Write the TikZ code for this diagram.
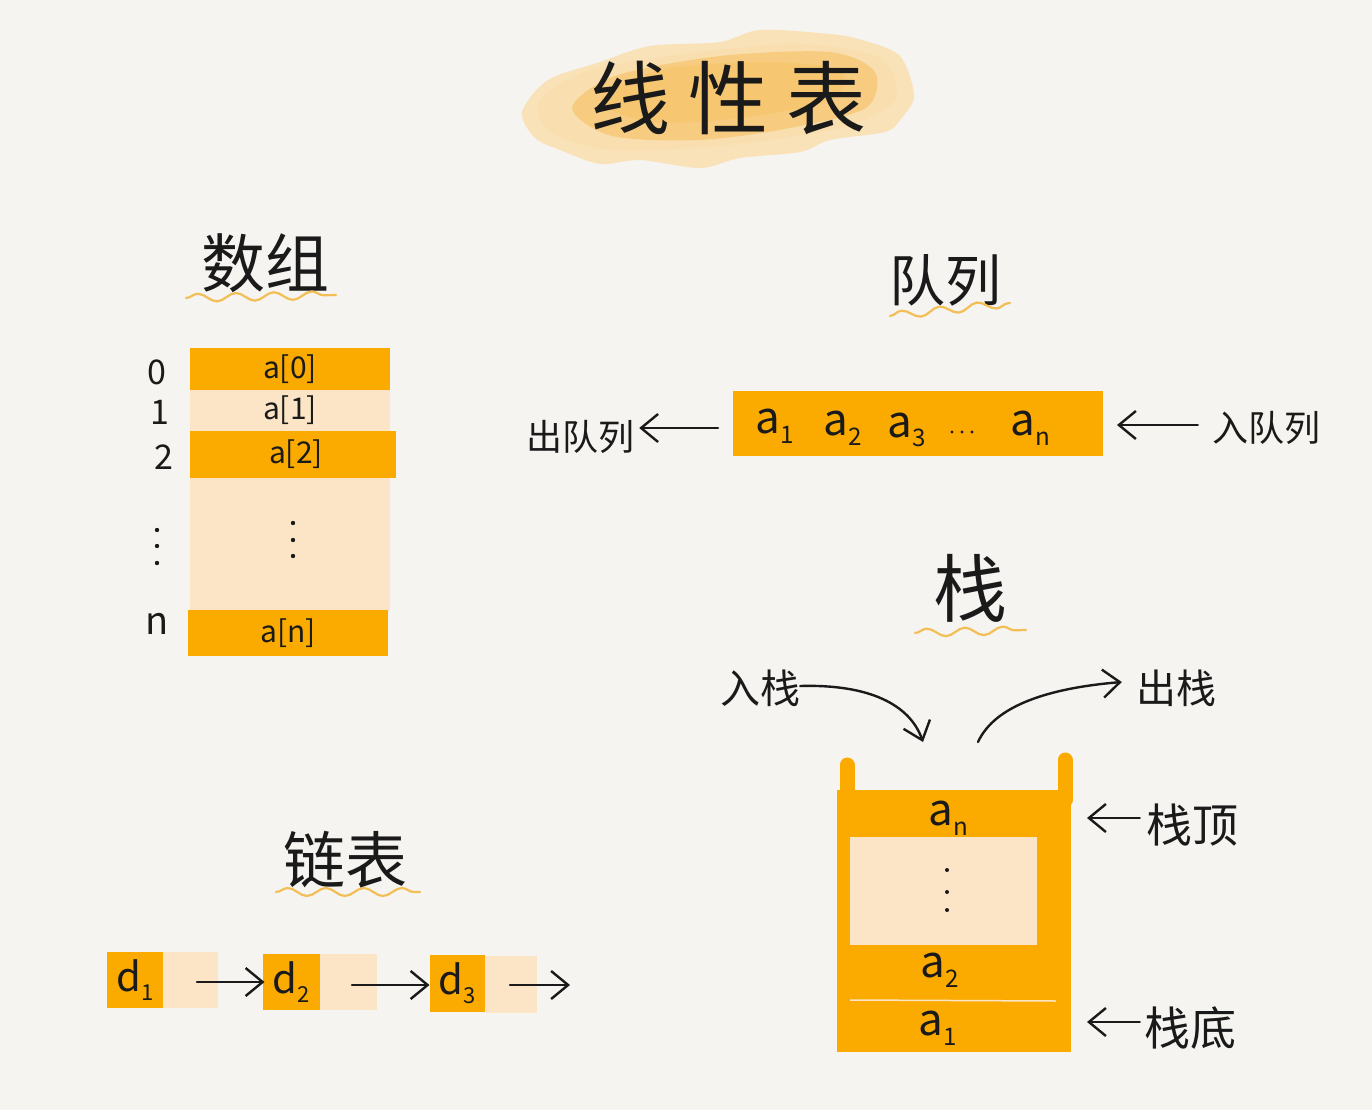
\documentclass[tikz,border=0pt]{standalone}
\usepackage{fontspec}
\usepackage{graphicx}
\setmainfont{Noto Sans CJK SC}
\usetikzlibrary{arrows.meta,decorations.pathmorphing,calc}
\definecolor{bg}{HTML}{F5F4F0}
\definecolor{org}{HTML}{FBAA00}
\definecolor{lt}{HTML}{FCE4C6}
\definecolor{wave}{HTML}{F2BE55}
\definecolor{brushA}{HTML}{FADDAA}
\definecolor{brushB}{HTML}{F7BC55}
\definecolor{ink}{HTML}{1A1A1A}
\newcommand\mysub[1]{\raisebox{-0.22em}{\scalebox{0.55}{#1}}}
\begin{document}
\begin{tikzpicture}[x=1pt,y=-1pt,
 cell/.style={draw=none, inner sep=0pt, outer sep=0pt},
 dark/.style={cell, fill=org},
 light/.style={cell, fill=lt},
 lbl/.style={text=ink, inner sep=0pt},
 fs/.style={font=\fontsize{#1}{#1}\selectfont},
 wavy/.style={draw=wave, line width=2.2pt, line cap=round, decorate, decoration={snake, amplitude=4pt, segment length=38pt}},
 arr/.style={draw=ink, line width=2.4pt, line cap=round, -{Straight Barb[length=17pt,width=28pt,line width=2.4pt]}},
 dotc/.style={fill=ink},
]
\useasboundingbox (0,0) rectangle (1372,1110);
\fill[bg] (0,0) rectangle (1372,1110);

% ---- title brush ----
\fill[brushA, opacity=0.8] plot[smooth cycle] coordinates {(522,112)(548,80)(600,62)(650,46)(720,42)(760,30)(830,34)(862,40)(900,56)(914,96)(900,120)(885,132)(830,140)(800,152)(740,158)(700,168)(640,160)(600,164)(560,150)(535,138)};
\fill[brushA, opacity=0.6] plot[smooth cycle] coordinates {(540,100)(590,70)(700,52)(800,44)(880,58)(895,100)(840,128)(720,146)(610,150)(550,132)};
\fill[brushB, opacity=0.5] plot[smooth cycle] coordinates {(572,108)(615,76)(720,56)(830,52)(875,72)(866,108)(790,128)(700,140)(612,136)};
\fill[brushB, opacity=0.35] plot[smooth cycle] coordinates {(600,100)(660,70)(760,62)(840,70)(830,100)(740,118)(650,122)};
\node[lbl, fs=80] (title) at (728,98) {线\hspace{18pt}性\hspace{18pt}表};

% ---- array ----
\node[lbl, fs=64] (arrT) at (265,263) {数组};
\coordinate (w1a) at (186,298);
\coordinate (w1b) at (336,295);
\draw[wavy] (w1a) -- (w1b);

\node[light, minimum width=200pt, minimum height=135pt] (amid) at (290,543) {};
\node[dark, minimum width=200pt, minimum height=42pt] (a0) at (290,369) {};
\node[light, minimum width=200pt, minimum height=41pt] (a1) at (290,410) {};
\node[dark, minimum width=206pt, minimum height=47pt] (a2) at (293,454) {};
\node[dark, minimum width=200pt, minimum height=46pt] (an) at (288,633) {};
\node[lbl, fs=30] (t0) at (a0.center) {a[0]};
\node[lbl, fs=30] (t1) at (a1.center) {a[1]};
\node[lbl, fs=30] (t2) at ($(a2.center)+(3,0)$) {a[2]};
\node[lbl, fs=30] (tn) at (an.center) {a[n]};
\node[lbl, fs=34] (i0) at (157,372) {0};
\node[lbl, fs=34] (i1) at (160,412) {1};
\node[lbl, fs=34] (i2) at (164,457) {2};
\node[lbl, fs=38] (in) at (157,624) {n};
\foreach \yy in {530,546,563} \fill[dotc] (157,\yy) circle (2.2pt);
\foreach \yy in {523,540,556} \fill[dotc] (293,\yy) circle (2.2pt);

% ---- queue ----
\node[lbl, fs=56] (qT) at (945,280) {队列};
\coordinate (w2a) at (890,316);
\coordinate (w2b) at (1010,303);
\draw[wavy] (w2a) -- (w2b);
\node[dark, minimum width=370pt, minimum height=65pt] (qbar) at (918,423) {};
\node[lbl, fs=44] (q1) at (775,426) {a\mysub{1}};
\node[lbl, fs=44] (q2) at (843,428) {a\mysub{2}};
\node[lbl, fs=44] (q3) at (907,430) {a\mysub{3}};
\foreach \xx in {952,962,972} \fill[dotc] (\xx,432) circle (1.6pt);
\node[lbl, fs=44] (q4) at (1030,428) {a\mysub{n}};
\node[lbl, fs=36] (deq) at (580,437) {出队列};
\node[lbl, fs=36] (enq) at (1266,428) {入队列};
\draw[arr] ($(qbar.west)+(-15,5)$) -- ($(deq.east)+(5,-9)$);
\draw[arr] ($(enq.west)+(-14,-3)$) -- ($(qbar.east)+(14,2)$);

% ---- stack ----
\node[lbl, fs=74] (sT) at (970,588) {栈};
\coordinate (w3a) at (915,633);
\coordinate (w3b) at (1026,630);
\draw[wavy] (w3a) -- (w3b);
\node[lbl, fs=40] (push) at (760,688) {入栈};
\node[lbl, fs=40] (pop) at (1176,688) {出栈};
\coordinate (pushend) at (923,742);
\coordinate (popstart) at (978,742);
\draw[arr] ($(push.east)+(0,-2)$) .. controls (870,684) and (910,705) .. (pushend);
\draw[arr] (popstart) .. controls (995,705) and (1050,688) .. ($(pop.west)+(-14,-6)$);

\draw[org, line width=15pt, line cap=round] (847,765) -- (847,800);
\draw[org, line width=15pt, line cap=round] (1065,760) -- (1065,800);
\node[dark, minimum width=234pt, minimum height=262pt] (stk) at (954,921) {};
\node[light, minimum width=187pt, minimum height=108pt] (smid) at (943,891) {};
\draw[lt, line width=1.5pt] (850,1000) -- (1056,1001);
\node[lbl, fs=44] (sn) at (948,818) {a\mysub{n}};
\node[lbl, fs=44] (s2) at (940,970) {a\mysub{2}};
\node[lbl, fs=44] (s1) at (938,1028) {a\mysub{1}};
\foreach \yy in {870,892,910} \fill[dotc] (947,\yy) circle (2pt);
\node[lbl, fs=46] (stop) at (1192,825) {栈顶};
\node[lbl, fs=46] (sbot) at (1190,1028) {栈底};
\draw[arr] ($(stop.west)+(-6,-7)$) -- ($(stk.east)+(16,-103)$);
\draw[arr] ($(sbot.west)+(-4,-6)$) -- ($(stk.east)+(16,101)$);

% ---- linked list ----
\node[lbl, fs=62] (lT) at (345,860) {链表};
\coordinate (w4a) at (276,892);
\coordinate (w4b) at (420,892);
\draw[wavy] (w4a) -- (w4b);
\node[light, minimum width=56pt, minimum height=56pt] (l1) at (190,980) {};
\node[dark, minimum width=56pt, minimum height=56pt] (d1) at (135,980) {};
\node[light, minimum width=57pt, minimum height=56pt] (l2) at (348,982) {};
\node[dark, minimum width=57pt, minimum height=56pt] (d2) at (291,982) {};
\node[light, minimum width=52pt, minimum height=57pt] (l3) at (511,984) {};
\node[dark, minimum width=55pt, minimum height=57pt] (d3) at (457,983) {};
\node[lbl, fs=40] (dt1) at (d1.center) {d\mysub{1}};
\node[lbl, fs=40] (dt2) at (d2.center) {d\mysub{2}};
\node[lbl, fs=40] (dt3) at (d3.center) {d\mysub{3}};
\coordinate (lend) at (570,985);
\draw[arr] ($(l1.center)+(7,2)$) -- ($(d2.west)+(2,0)$);
\draw[arr] ($(l2.center)+(4,3)$) -- ($(d3.west)+(0,2)$);
\draw[arr] ($(l3.center)+(-1,1)$) -- (lend);
\end{tikzpicture}
\end{document}
